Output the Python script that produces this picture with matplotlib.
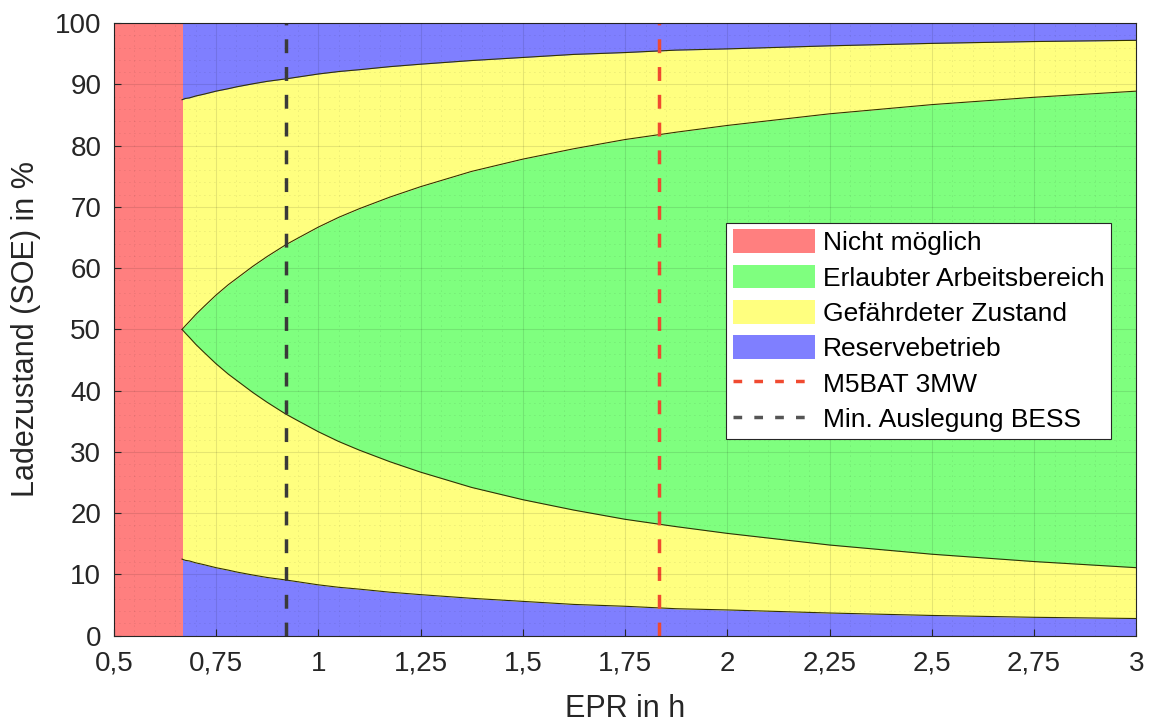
import numpy as np
import matplotlib.pyplot as plt
from matplotlib.ticker import MultipleLocator, FuncFormatter
from matplotlib.patches import Patch
from matplotlib.lines import Line2D

plt.rcParams['font.family'] = ['Liberation Sans', 'DejaVu Sans']

# EPR (h) and band boundaries (SOE in %)
epr = [0.667, 0.675, 0.685, 0.7, 0.72, 0.75, 0.78, 0.8, 0.84, 0.875, 0.92, 0.95,
       1.0, 1.05, 1.1, 1.175, 1.25, 1.375, 1.5, 1.625, 1.75, 1.875,
       2.0, 2.25, 2.5, 2.75, 3.0]
blue_low = [12.5, 12.3, 12.2, 11.9, 11.6, 11.1, 10.7, 10.4, 9.9, 9.5, 9.1, 8.8,
            8.3, 7.9, 7.6, 7.1, 6.7, 6.1, 5.6, 5.1, 4.8, 4.4,
            4.2, 3.7, 3.3, 3.0, 2.8]
green_low = [50.0, 49.4, 48.7, 47.6, 46.3, 44.4, 42.7, 41.7, 39.7, 38.1, 36.2, 35.1,
             33.3, 31.7, 30.3, 28.4, 26.7, 24.2, 22.2, 20.5, 19.0, 17.8,
             16.7, 14.8, 13.3, 12.1, 11.1]
green_high = [50.0, 50.6, 51.3, 52.4, 53.7, 55.6, 57.3, 58.3, 60.3, 61.9, 63.8, 64.9,
              66.7, 68.3, 69.7, 71.6, 73.3, 75.8, 77.8, 79.5, 81.0, 82.2,
              83.3, 85.2, 86.7, 87.9, 88.9]
blue_high = [87.5, 87.7, 87.8, 88.1, 88.4, 88.9, 89.3, 89.6, 90.1, 90.5, 90.9, 91.2,
             91.7, 92.1, 92.4, 92.9, 93.3, 93.9, 94.4, 94.9, 95.2, 95.6,
             95.8, 96.3, 96.7, 97.0, 97.2]

epr_min = 0.667      # below this: not possible
epr_m5bat = 1.833    # M5BAT 3MW
epr_bess = 0.92      # Min. Auslegung BESS

c_red = '#ff7f7f'
c_green = '#7fff7f'
c_yellow = '#ffff7f'
c_blue = '#7f7fff'

fig, ax = plt.subplots(figsize=(11.49, 7.24), dpi=100)
fig.subplots_adjust(left=0.099, right=0.989, top=0.968, bottom=0.122)

ax.fill_between(epr, 0, blue_low, color=c_blue, lw=0)
ax.fill_between(epr, blue_low, green_low, color=c_yellow, lw=0)
ax.fill_between(epr, green_low, green_high, color=c_green, lw=0)
ax.fill_between(epr, green_high, blue_high, color=c_yellow, lw=0)
ax.fill_between(epr, blue_high, 100, color=c_blue, lw=0)
ax.axvspan(0.5, epr_min + 0.002, color=c_red, lw=0)
for b in [blue_low, green_low, green_high, blue_high]:
    ax.plot(epr, b, color='#333300', lw=0.8)

ax.axvline(epr_m5bat, color='#f04a30', ls=(0, (4, 4)), lw=2.5)
ax.axvline(epr_bess, color='#3a3a3a', ls=(0, (4, 4)), lw=2.5)

ax.set_xlim(0.5, 3)
ax.set_ylim(0, 100)
ax.xaxis.set_major_locator(MultipleLocator(0.25))
ax.xaxis.set_minor_locator(MultipleLocator(0.05))
ax.yaxis.set_major_locator(MultipleLocator(10))
ax.yaxis.set_minor_locator(MultipleLocator(2))
ax.xaxis.set_major_formatter(FuncFormatter(lambda v, p: f'{v:g}'.replace('.', ',')))
ax.grid(True, which='major', color='#000000', alpha=0.1, lw=0.8)
ax.grid(True, which='minor', color='#000000', alpha=0.15, lw=0.6, ls=(0, (1, 5)))
ax.set_axisbelow(False)
ax.tick_params(which='major', direction='in', length=5, labelsize=20, colors='#262626')
ax.tick_params(axis='x', pad=11)
ax.tick_params(axis='y', pad=9)
ax.tick_params(which='minor', length=0)
for s in ax.spines.values():
    s.set_color('#262626')

ax.set_xlabel('EPR in h', fontsize=22, color='#262626', labelpad=12)
ax.set_ylabel('Ladezustand (SOE) in %', fontsize=22, color='#262626', labelpad=10)

handles = [
    Patch(facecolor=c_red, label='Nicht möglich'),
    Patch(facecolor=c_green, label='Erlaubter Arbeitsbereich'),
    Patch(facecolor=c_yellow, label='Gefährdeter Zustand'),
    Patch(facecolor=c_blue, label='Reservebetrieb'),
    Line2D([], [], color='#f04a30', ls=(0, (2.5, 3.5)), lw=2.5, label='M5BAT 3MW'),
    Line2D([], [], color='#555555', ls=(0, (2.5, 3.5)), lw=2.5, label='Min. Auslegung BESS'),
]
leg = ax.legend(handles=handles, loc='upper left', bbox_to_anchor=(0.599, 0.674),
                fontsize=19, fancybox=False, framealpha=1, edgecolor='#262626',
                handlelength=3.1, handleheight=1.0, borderpad=0.25, labelspacing=0.36,
                handletextpad=0.3, borderaxespad=0, labelcolor='black')
leg.get_frame().set_linewidth(0.8)

plt.savefig('out.png', dpi=100)
